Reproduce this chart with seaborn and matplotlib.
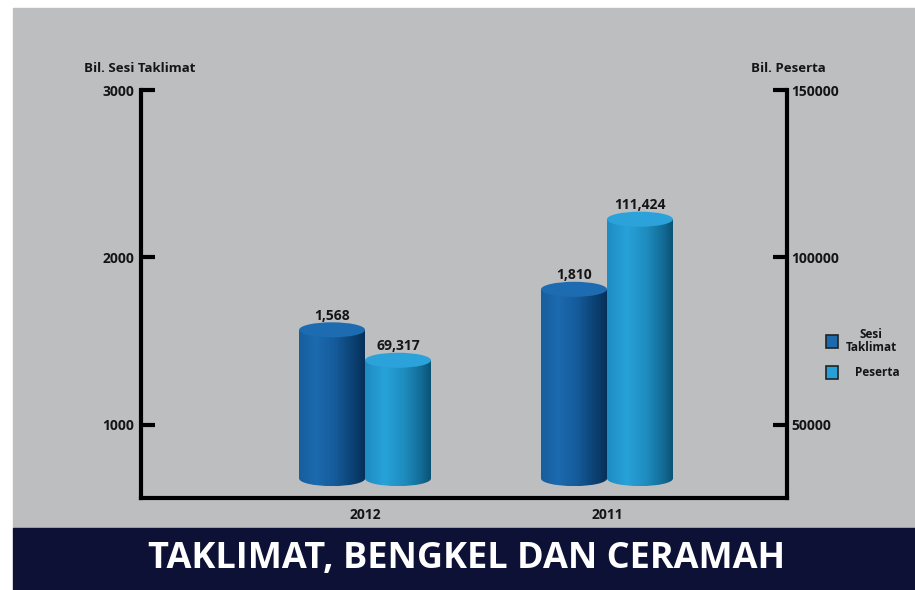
import numpy as np
import pandas as pd
import matplotlib
matplotlib.use('Agg')
import matplotlib.pyplot as plt
import seaborn as sns
from matplotlib.colors import LinearSegmentedColormap
from matplotlib.patches import Ellipse, Rectangle

# data
tahun = ['2012', '2011']
siri = ['Sesi Taklimat', 'Peserta']
sesi_taklimat = [1568, 1810]
peserta = [69317, 111424]
label_sesi = ['1,568', '1,810']
label_peserta = ['69,317', '111,424']
ticks_kiri = [1000, 2000, 3000]
ticks_kanan = [50000, 100000, 150000]

sns.set_theme(style='white')
plt.rcParams['font.family'] = ['Open Sans', 'DejaVu Sans']

W, H = 915, 590
def fx(px):
    return px / W
def fy(py):
    return 1 - py / H

fig = plt.figure(figsize=(9.15, 5.9), dpi=100)
fig.patch.set_facecolor('white')

# background panel + title banner
fig.patches.append(Rectangle((fx(13), fy(528)), 1 - fx(13), fy(8) - fy(528),
                             transform=fig.transFigure, color='#BDBEC0', zorder=-10))
fig.patches.append(Rectangle((fx(13), 0), 1 - fx(13), fy(528),
                             transform=fig.transFigure, color='#0D1135', zorder=-10))

ax = fig.add_axes([fx(141), fy(498), fx(787) - fx(141), fy(90) - fy(498)])
ax.set_facecolor('none')

warna = {'Sesi Taklimat': '#1B6AAE', 'Peserta': '#26A0D8'}
df_sesi = pd.DataFrame({'Tahun': tahun, 'Nilai': sesi_taklimat, 'Siri': siri[0]})
df_peserta = pd.DataFrame({'Tahun': tahun, 'Nilai': peserta, 'Siri': siri[1]})

sns.barplot(data=df_sesi, x='Tahun', y='Nilai', hue='Siri', hue_order=siri, order=tahun,
            palette=warna, dodge=True, width=0.545, errorbar=None, legend=False, ax=ax)
ax2 = ax.twinx()
ax2.set_facecolor('none')
sns.barplot(data=df_peserta, x='Tahun', y='Nilai', hue='Siri', hue_order=siri, order=tahun,
            palette=warna, dodge=True, width=0.545, errorbar=None, legend=False, ax=ax2)

cmap_gelap = LinearSegmentedColormap.from_list('gelap', [
    (0, '#175E9D'), (0.25, '#1C6AAF'), (0.55, '#155B9B'), (0.8, '#0C4375'), (1, '#06305A')])
cmap_cerah = LinearSegmentedColormap.from_list('cerah', [
    (0, '#1E8CC3'), (0.3, '#27A2D9'), (0.6, '#1E8CBE'), (0.85, '#136C97'), (1, '#0B5274')])

grad = np.linspace(0, 1, 256).reshape(1, -1)


def silinder(axis, base, h_elips, cmap, warna_atas, labels):
    bars = sorted(list(axis.patches), key=lambda p: p.get_x())
    for bar, teks in zip(bars, labels):
        x0, w, top = bar.get_x(), bar.get_width(), bar.get_height()
        xc = x0 + w / 2
        bar.set_y(base)
        bar.set_height(top - base)
        bar.set_facecolor('none')
        bar.set_edgecolor('none')
        img = axis.imshow(grad, extent=(x0, x0 + w, base, top), aspect='auto',
                          cmap=cmap, zorder=2, interpolation='bilinear')
        img.set_clip_path(bar)
        bawah = Ellipse((xc, base), w, h_elips, facecolor='none', edgecolor='none')
        axis.add_patch(bawah)
        img2 = axis.imshow(grad, extent=(x0, x0 + w, base - h_elips / 2, base), aspect='auto',
                           cmap=cmap, zorder=2, interpolation='bilinear')
        img2.set_clip_path(bawah)
        atas = Ellipse((xc, top), w, h_elips, facecolor=warna_atas, edgecolor='none', zorder=3)
        axis.add_patch(atas)
        axis.annotate(teks, (xc, top), xytext=(0, 5), textcoords='offset points',
                      ha='center', va='bottom', fontsize=10, fontweight='bold', color='#151515')


silinder(ax, 680, 90, cmap_gelap, '#1D6BB0', label_sesi)
silinder(ax2, 680 * 50, 90 * 50, cmap_cerah, '#2BA3DA', label_peserta)

ax.set_xlim(-0.926, 1.744)
ax.set_ylim(564, 3000)
ax2.set_ylim(564 * 50, 150000)

ax.set_yticks(ticks_kiri, labels=[str(t) for t in ticks_kiri])
ax2.set_yticks(ticks_kanan, labels=[str(t) for t in ticks_kanan])
ax.set_xlabel('')
ax.set_ylabel('')
ax2.set_ylabel('')

for s in ['top', 'right']:
    ax.spines[s].set_visible(False)
for s in ['left', 'bottom']:
    ax.spines[s].set_color('black')
    ax.spines[s].set_linewidth(3)
for s in ['top', 'left', 'bottom']:
    ax2.spines[s].set_visible(False)
ax2.spines['right'].set_color('black')
ax2.spines['right'].set_linewidth(3)

ax.tick_params(axis='y', direction='in', length=10, width=3, color='black', labelsize=10, pad=5, left=True)
ax2.tick_params(axis='y', direction='in', length=10, width=3, color='black', labelsize=10, pad=3, right=True)
ax.tick_params(axis='x', length=0, pad=7, labelsize=10)
for lab in ax.get_yticklabels() + ax2.get_yticklabels() + ax.get_xticklabels():
    lab.set_fontweight('bold')
    lab.set_color('#151515')

# axis titles
fig.text(fx(140), fy(69), 'Bil. Sesi Taklimat', ha='center', va='center',
         fontsize=9.5, fontweight='bold', color='#151515')
fig.text(fx(788), fy(69), 'Bil. Peserta', ha='center', va='center',
         fontsize=9.5, fontweight='bold', color='#151515')

# legend
for py, nama, tx in [(341, 'Sesi\nTaklimat', 871), (372, 'Peserta', 877)]:
    kunci = siri[0] if py == 341 else siri[1]
    fig.patches.append(Rectangle((fx(826), fy(py + 6.5)), fx(12), 13 / H, transform=fig.transFigure,
                                 facecolor=warna[kunci], edgecolor='#222222', lw=1.2, zorder=3))
    fig.text(fx(tx), fy(py), nama, ha='center', va='center', fontsize=8.5,
             fontweight='bold', color='#151515', linespacing=1.0)

fig.text(fx(467), fy(559), 'TAKLIMAT, BENGKEL DAN CERAMAH', ha='center', va='center',
         fontsize=26, fontweight='bold', color='white', family=['Open Sans', 'DejaVu Sans'])

plt.savefig('out.png', dpi=100)
